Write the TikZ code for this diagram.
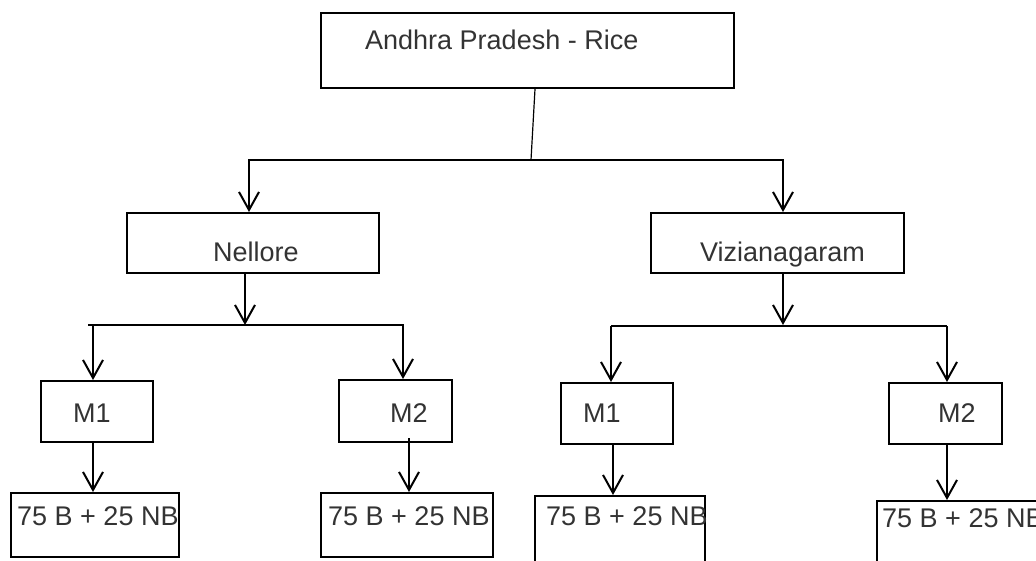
\documentclass[tikz,border=0pt]{standalone}
\usepackage{fontspec}
\setmainfont{Liberation Sans}
\usetikzlibrary{arrows.meta}
\begin{document}
\begin{tikzpicture}[x=1pt,y=-1pt,
 box/.style={draw, line width=2pt, inner sep=0pt},
 txt/.style={anchor=base west, inner sep=0pt, font=\fontsize{27}{31}\selectfont, text=black!80},
 arr/.style={line width=2pt, -{Straight Barb[length=18pt,width=20pt,line width=2pt]}},
 thinline/.style={line width=1.2pt}]
\useasboundingbox (0,0) rectangle (1036,561);
\clip (0,0) rectangle (1036,561);
% boxes
\node[box, minimum width=413pt, minimum height=75pt] (ap) at (527.5,50.5) {};
\node[txt] (apt) at (365,50) {Andhra Pradesh - Rice};
\node[box, minimum width=252pt, minimum height=60pt] (nel) at (253,243) {};
\node[txt] (nelt) at (213,262) {Nellore};
\node[box, minimum width=253pt, minimum height=60pt] (viz) at (777.5,243) {};
\node[txt] (vizt) at (700,262) {Vizianagaram};
\node[box, minimum width=112pt, minimum height=61pt] (m1a) at (97,411.5) {};
\node[txt] (m1at) at (73,422) {M1};
\node[box, minimum width=113pt, minimum height=62pt] (m2a) at (395.5,411) {};
\node[txt] (m2at) at (390,422) {M2};
\node[box, minimum width=112pt, minimum height=61pt] (m1b) at (617,413.5) {};
\node[txt] (m1bt) at (583,422) {M1};
\node[box, minimum width=113pt, minimum height=61pt] (m2b) at (945.5,413.5) {};
\node[txt] (m2bt) at (938,422) {M2};
\node[box, minimum width=168pt, minimum height=64pt] (ra) at (95,525) {};
\node[txt] (rat) at (17,525) {75 B + 25 NB};
\node[box, minimum width=172pt, minimum height=64pt] (rb) at (407,525) {};
\node[txt] (rbt) at (328,525) {75 B + 25 NB};
\node[box, minimum width=170pt, minimum height=104pt] (rc) at (620,548) {};
\node[txt] (rct) at (546,525) {75 B + 25 NB};
\node[box, minimum width=223pt, minimum height=99pt] (rd) at (988.5,550.5) {};
\node[txt] (rdt) at (882,527) {75 B + 25 NB};
% level 1 branch
\coordinate (j1) at (531,160);
\coordinate (j1l) at (248,160);
\coordinate (j1r) at (784,160);
\draw[thinline] ([xshift=7.5pt]ap.south) -- (j1);
\draw[thinline] (j1l) -- (j1r);
\coordinate (a1) at (249,160);
\coordinate (a2) at (783,160);
\draw[arr] (a1) -- (a1 |- nel.north);
\draw[arr] (a2) -- (a2 |- viz.north);
% level 2 branch (Nellore)
\coordinate (j2l) at (88,325);
\coordinate (j2r) at (404,325);
\draw[arr] ([xshift=-8pt]nel.south) -- ++(0,51);
\draw[thinline] (j2l) -- (j2r);
\coordinate (b1) at (93,325);
\coordinate (b2) at (403,325);
\draw[arr] (b1) -- (b1 |- m1a.north);
\draw[arr] (b2) -- (b2 |- m2a.north);
% level 2 branch (Vizianagaram)
\coordinate (j3l) at (611,326);
\coordinate (j3r) at (947,326);
\draw[arr] ([xshift=5.5pt]viz.south) -- ++(0,51);
\draw[thinline] (j3l) -- (j3r);
\coordinate (b3) at (611,326);
\coordinate (b4) at (947,326);
\draw[arr] (b3) -- (b3 |- m1b.north);
\draw[arr] (b4) -- (b4 |- m2b.north);
% level 3
\draw[arr] ([xshift=-4pt]m1a.south) coordinate (c1) -- (c1 |- ra.north);
\draw[arr] ([xshift=13.5pt,yshift=5pt]m2a.south) coordinate (c2) -- (c2 |- rb.north);
\draw[arr] ([xshift=-4pt]m1b.south) coordinate (c3) -- (c3 |- rc.north);
\draw[arr] ([xshift=1.5pt]m2b.south) coordinate (c4) -- (c4 |- rd.north);
\end{tikzpicture}
\end{document}
